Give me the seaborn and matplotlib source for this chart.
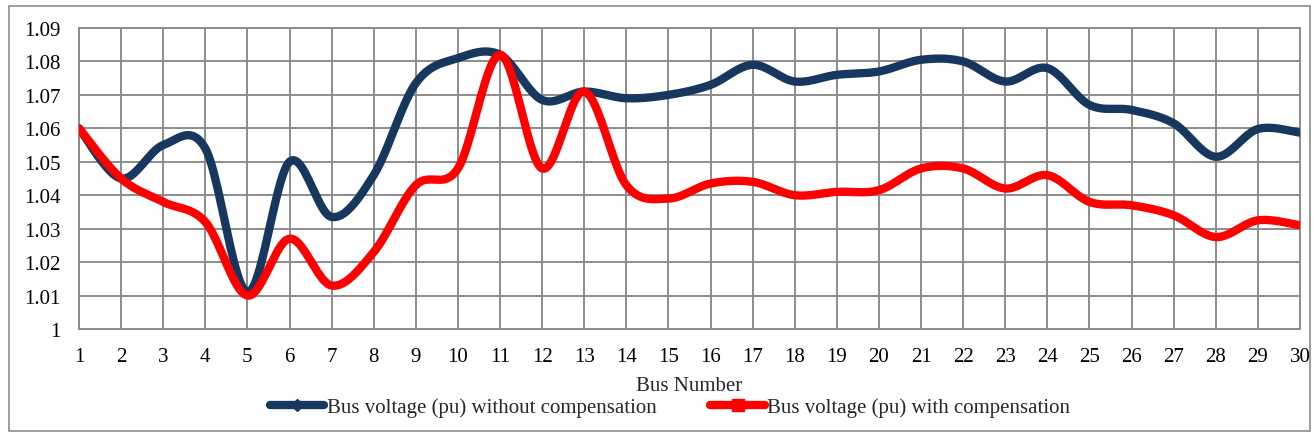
import numpy as np
import pandas as pd
import matplotlib
matplotlib.use("Agg")
import matplotlib.pyplot as plt
from matplotlib.lines import Line2D
from matplotlib.patches import Rectangle
import seaborn as sns

buses = list(range(1, 31))
v_without = [1.060, 1.045, 1.055, 1.054, 1.011, 1.050, 1.0335, 1.046, 1.0735, 1.081,
             1.082, 1.0685, 1.071, 1.069, 1.070, 1.073, 1.079, 1.074, 1.076, 1.077,
             1.0805, 1.080, 1.074, 1.078, 1.067, 1.0655, 1.0615, 1.0515, 1.0598, 1.0587]
v_with = [1.060, 1.045, 1.038, 1.032, 1.010, 1.027, 1.013, 1.023, 1.043, 1.048,
          1.082, 1.048, 1.071, 1.043, 1.039, 1.0435, 1.044, 1.040, 1.041, 1.0415,
          1.048, 1.048, 1.042, 1.046, 1.038, 1.037, 1.034, 1.0275, 1.0325, 1.031]
label_without = "Bus voltage (pu) without compensation"
label_with = "Bus voltage (pu) with compensation"
y_ticks = [1.00, 1.01, 1.02, 1.03, 1.04, 1.05, 1.06, 1.07, 1.08, 1.09]
y_tick_labels = ["1", "1.01", "1.02", "1.03", "1.04", "1.05", "1.06", "1.07", "1.08", "1.09"]


def smooth(xs, ys, n=24):
    """Catmull-Rom style Bezier smoothing through every point."""
    xs = np.asarray(xs, float)
    ys = np.asarray(ys, float)
    px = np.concatenate([[xs[0]], xs, [xs[-1]]])
    py = np.concatenate([[ys[0]], ys, [ys[-1]]])
    out_x, out_y = [], []
    t = np.linspace(0, 1, n, endpoint=False)
    for i in range(1, len(px) - 2):
        p0x, p1x, p2x, p3x = px[i - 1], px[i], px[i + 1], px[i + 2]
        p0y, p1y, p2y, p3y = py[i - 1], py[i], py[i + 1], py[i + 2]
        c1x, c1y = p1x + (p2x - p0x) / 6, p1y + (p2y - p0y) / 6
        c2x, c2y = p2x - (p3x - p1x) / 6, p2y - (p3y - p1y) / 6
        b0, b1, b2, b3 = (1 - t) ** 3, 3 * t * (1 - t) ** 2, 3 * t ** 2 * (1 - t), t ** 3
        out_x.append(b0 * p1x + b1 * c1x + b2 * c2x + b3 * p2x)
        out_y.append(b0 * p1y + b1 * c1y + b2 * c2y + b3 * p2y)
    out_x.append([xs[-1]])
    out_y.append([ys[-1]])
    return np.concatenate(out_x), np.concatenate(out_y)


frames = []
for name, vals in [(label_without, v_without), (label_with, v_with)]:
    sx, sy = smooth(buses, vals)
    frames.append(pd.DataFrame({"bus": sx, "voltage": sy, "series": name}))
df = pd.concat(frames, ignore_index=True)

sns.set_theme(style="white")
plt.rcParams["font.family"] = ["Liberation Serif", "DejaVu Serif"]

navy = "#17375E"
red = "#FF0000"
grid_col = "#8C8C8C"
fs = 15

fig = plt.figure(figsize=(13.14, 4.39), dpi=100)
ax = fig.add_axes([79 / 1314, 1 - 330 / 439, (1300 - 79) / 1314, (330 - 29) / 439])

sns.lineplot(data=df, x="bus", y="voltage", hue="series", palette={label_without: navy, label_with: red},
             estimator=None, sort=False, linewidth=6.0, ax=ax, legend=False,
             solid_capstyle="round", solid_joinstyle="round", zorder=3)

ax.set_xlim(1, 30)
ax.set_ylim(1.0, 1.09)
ax.set_xticks(buses)
ax.set_xticklabels([str(b) for b in buses], fontsize=fs)
ax.set_yticks(y_ticks)
ax.set_yticklabels(y_tick_labels, fontsize=fs)
ax.tick_params(axis="x", length=0, pad=13, colors="black")
ax.tick_params(axis="y", length=0, pad=13, colors="black")
ax.grid(True, color=grid_col, linewidth=1.4)
ax.set_axisbelow(True)
for s in ax.spines.values():
    s.set_color(grid_col)
    s.set_linewidth(1.4)
ax.set_xlabel("Bus Number", fontsize=fs, labelpad=7)
ax.set_ylabel("")

handles = [
    Line2D([0], [0], color=navy, lw=6, marker="D", markersize=6, markerfacecolor=navy, markeredgecolor=navy,
           solid_capstyle="round"),
    Line2D([0], [0], color=red, lw=6, marker="s", markersize=9, markerfacecolor=red, markeredgecolor=red,
           solid_capstyle="round"),
]
fig.legend(handles, [label_without, label_with], loc="center", bbox_to_anchor=(670 / 1314, 1 - 408 / 439),
           ncol=2, frameon=False, fontsize=fs, handlelength=2.6, handletextpad=0.1, columnspacing=2.6)

fig.patches.append(Rectangle((9 / 1314, 1 - 432 / 439), (1310 - 9) / 1314, (432 - 7) / 439,
                             transform=fig.transFigure, fill=False, edgecolor="#8C8C8C", linewidth=1.2))

fig.savefig("out.png", dpi=100)
